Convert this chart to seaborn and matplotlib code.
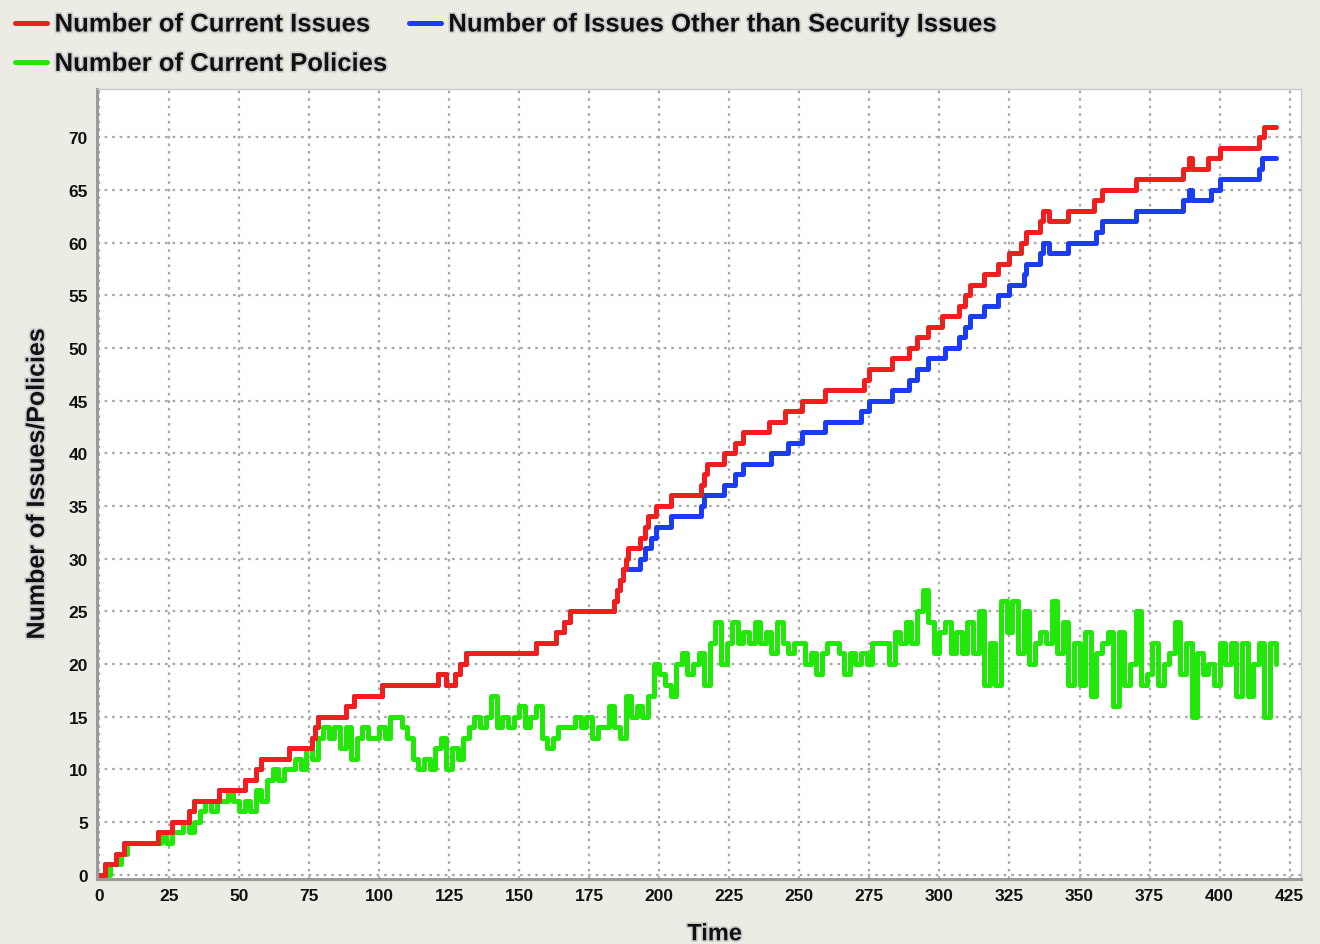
import matplotlib
matplotlib.use("Agg")
import matplotlib.pyplot as plt
import matplotlib.patheffects as pe
import seaborn as sns

# change points of the two issue counts (time, value)
issues_t = [0, 2, 6, 9, 21, 26, 32, 34, 43, 52, 56, 58, 68, 76, 77, 78, 88, 91, 101,
            121, 124, 127, 129, 131, 156, 163, 166, 168, 184, 185, 186, 187, 188, 189,
            193, 195, 196, 199, 204, 215, 216, 217, 223, 227, 230, 239, 245, 251, 259,
            273, 275, 283, 289, 292, 296, 301, 307, 309, 311, 316, 321, 325, 329, 331,
            336, 337, 339, 346, 355, 358, 370, 387, 389, 390, 396, 400, 414, 416, 420]
issues_v = [0, 1, 2, 3, 4, 5, 6, 7, 8, 9, 10, 11, 12, 13, 14, 15, 16, 17, 18,
            19, 18, 19, 20, 21, 22, 23, 24, 25, 26, 27, 28, 29, 30, 31,
            32, 33, 34, 35, 36, 37, 38, 39, 40, 41, 42, 43, 44, 45, 46,
            47, 48, 49, 50, 51, 52, 53, 54, 55, 56, 57, 58, 59, 60, 61,
            62, 63, 62, 63, 64, 65, 66, 67, 68, 67, 68, 69, 70, 71, 71]

other_t = [0, 2, 6, 9, 21, 26, 32, 34, 43, 52, 56, 58, 68, 76, 77, 78, 88, 91, 101,
           121, 124, 127, 129, 131, 156, 163, 166, 168, 184, 185, 186, 187,
           193, 195, 197, 199, 204, 215, 216, 223, 227, 230, 240, 246, 251, 259,
           272, 275, 283, 289, 292, 296, 302, 307, 309, 311, 316, 321, 325, 330, 331,
           336, 337, 339, 346, 356, 358, 370, 387, 389, 390, 397, 400, 414, 415, 420]
other_v = [0, 1, 2, 3, 4, 5, 6, 7, 8, 9, 10, 11, 12, 13, 14, 15, 16, 17, 18,
           19, 18, 19, 20, 21, 22, 23, 24, 25, 26, 27, 28, 29,
           30, 31, 32, 33, 34, 35, 36, 37, 38, 39, 40, 41, 42, 43,
           44, 45, 46, 47, 48, 49, 50, 51, 52, 53, 54, 55, 56, 57, 58,
           59, 60, 59, 60, 61, 62, 63, 64, 65, 64, 65, 66, 67, 68, 68]

# policies sampled every 2 time units, t = 0..420
policies_t = list(range(0, 421, 2))
policies_v = [0, 0, 1, 1, 2, 3, 3, 3, 3, 3,
              3, 4, 3, 4, 4, 5, 4, 5, 6, 7,
              6, 7, 7, 8, 7, 6, 7, 6, 8, 7,
              9, 10, 9, 10, 10, 11, 10, 12, 11, 13,
              14, 13, 14, 12, 14, 11, 13, 14, 13, 13,
              14, 13, 15, 15, 14, 13, 11, 10, 11, 10,
              12, 13, 10, 12, 11, 13, 14, 15, 14, 15,
              17, 14, 15, 14, 15, 16, 14, 15, 16, 13,
              12, 13, 14, 14, 14, 15, 14, 15, 13, 14,
              14, 16, 14, 13, 17, 15, 16, 15, 17, 20,
              19, 18, 17, 20, 21, 19, 20, 21, 18, 22,
              24, 20, 22, 24, 22, 23, 22, 24, 22, 23,
              21, 24, 22, 21, 22, 22, 20, 21, 19, 21,
              22, 22, 21, 19, 21, 20, 21, 20, 22, 22,
              22, 20, 23, 22, 24, 22, 25, 27, 24, 21,
              23, 24, 21, 23, 21, 24, 21, 25, 18, 22,
              18, 26, 23, 26, 21, 25, 20, 22, 23, 22,
              26, 21, 24, 18, 22, 18, 23, 17, 21, 22,
              23, 16, 23, 18, 20, 25, 18, 19, 22, 18,
              20, 21, 24, 19, 22, 15, 21, 19, 20, 18,
              22, 20, 22, 17, 22, 17, 20, 22, 15, 22,
              20]

x_ticks = list(range(0, 426, 25))
y_ticks = list(range(0, 71, 5))

RED = "#f21d1d"
BLUE = "#1a3cf5"
GREEN = "#22e80a"

sns.set_style("white")
plt.rcParams["font.family"] = ["Liberation Sans", "DejaVu Sans"]
plt.rcParams["font.weight"] = "bold"

fig = plt.figure(figsize=(13.2, 9.45), dpi=100, facecolor="#ecebe4")
ax = fig.add_axes([0.0735, 0.069, 0.912, 0.836])
ax.set_facecolor("white")

sns.lineplot(x=policies_t, y=policies_v, ax=ax, color=GREEN, lw=3.6,
             drawstyle="steps-post", label="Number of Current Policies")
sns.lineplot(x=other_t, y=other_v, ax=ax, color=BLUE, lw=3.6,
             drawstyle="steps-post", label="Number of Issues Other than Security Issues")
sns.lineplot(x=issues_t, y=issues_v, ax=ax, color=RED, lw=3.6,
             drawstyle="steps-post", label="Number of Current Issues")

ax.set_xlim(-0.7, 429)
ax.set_ylim(-0.4, 74.6)
ax.set_xticks(x_ticks)
ax.set_yticks(y_ticks)
ax.grid(True, color="#a8a8a8", linestyle=(0, (1.2, 2.2)), lw=1.6)
ax.tick_params(axis="both", labelsize=12.5, length=3, color="#999999",
               direction="out", labelcolor="#111111")
for lab in ax.get_xticklabels() + ax.get_yticklabels():
    lab.set_fontweight("bold")

for side in ["top", "right"]:
    ax.spines[side].set_color("#c8c8c8")
    ax.spines[side].set_linewidth(1.0)
for side in ["left", "bottom"]:
    ax.spines[side].set_color("#9a9a9a")
    ax.spines[side].set_linewidth(2.2)

halo = [pe.withStroke(linewidth=2.5, foreground="#cfcfcf")]
ax.set_xlabel("Time", fontsize=17, fontweight="bold", color="#111111", path_effects=halo)
ax.xaxis.set_label_coords(0.513, -0.055)
ax.set_ylabel("Number of Issues/Policies", fontsize=18, fontweight="bold",
              color="#111111", path_effects=halo)
ax.yaxis.set_label_coords(-0.04, 0.5)

# ncol=2 fills column-wise: red, green in column 1, blue in column 2
handles, labels = ax.get_legend_handles_labels()
order = [2, 0, 1]
leg = ax.legend([handles[i] for i in order], [labels[i] for i in order],
                loc="lower left", bbox_to_anchor=(-0.079, 1.0), ncol=2,
                frameon=False, fontsize=18.5, handlelength=1.25, handletextpad=0.3,
                columnspacing=0.8, labelspacing=0.6, borderaxespad=0.1)
for t in leg.get_texts():
    t.set_fontweight("bold")
    t.set_color("#111111")
    t.set_path_effects(halo)

fig.savefig("out.png", dpi=100, facecolor=fig.get_facecolor())
